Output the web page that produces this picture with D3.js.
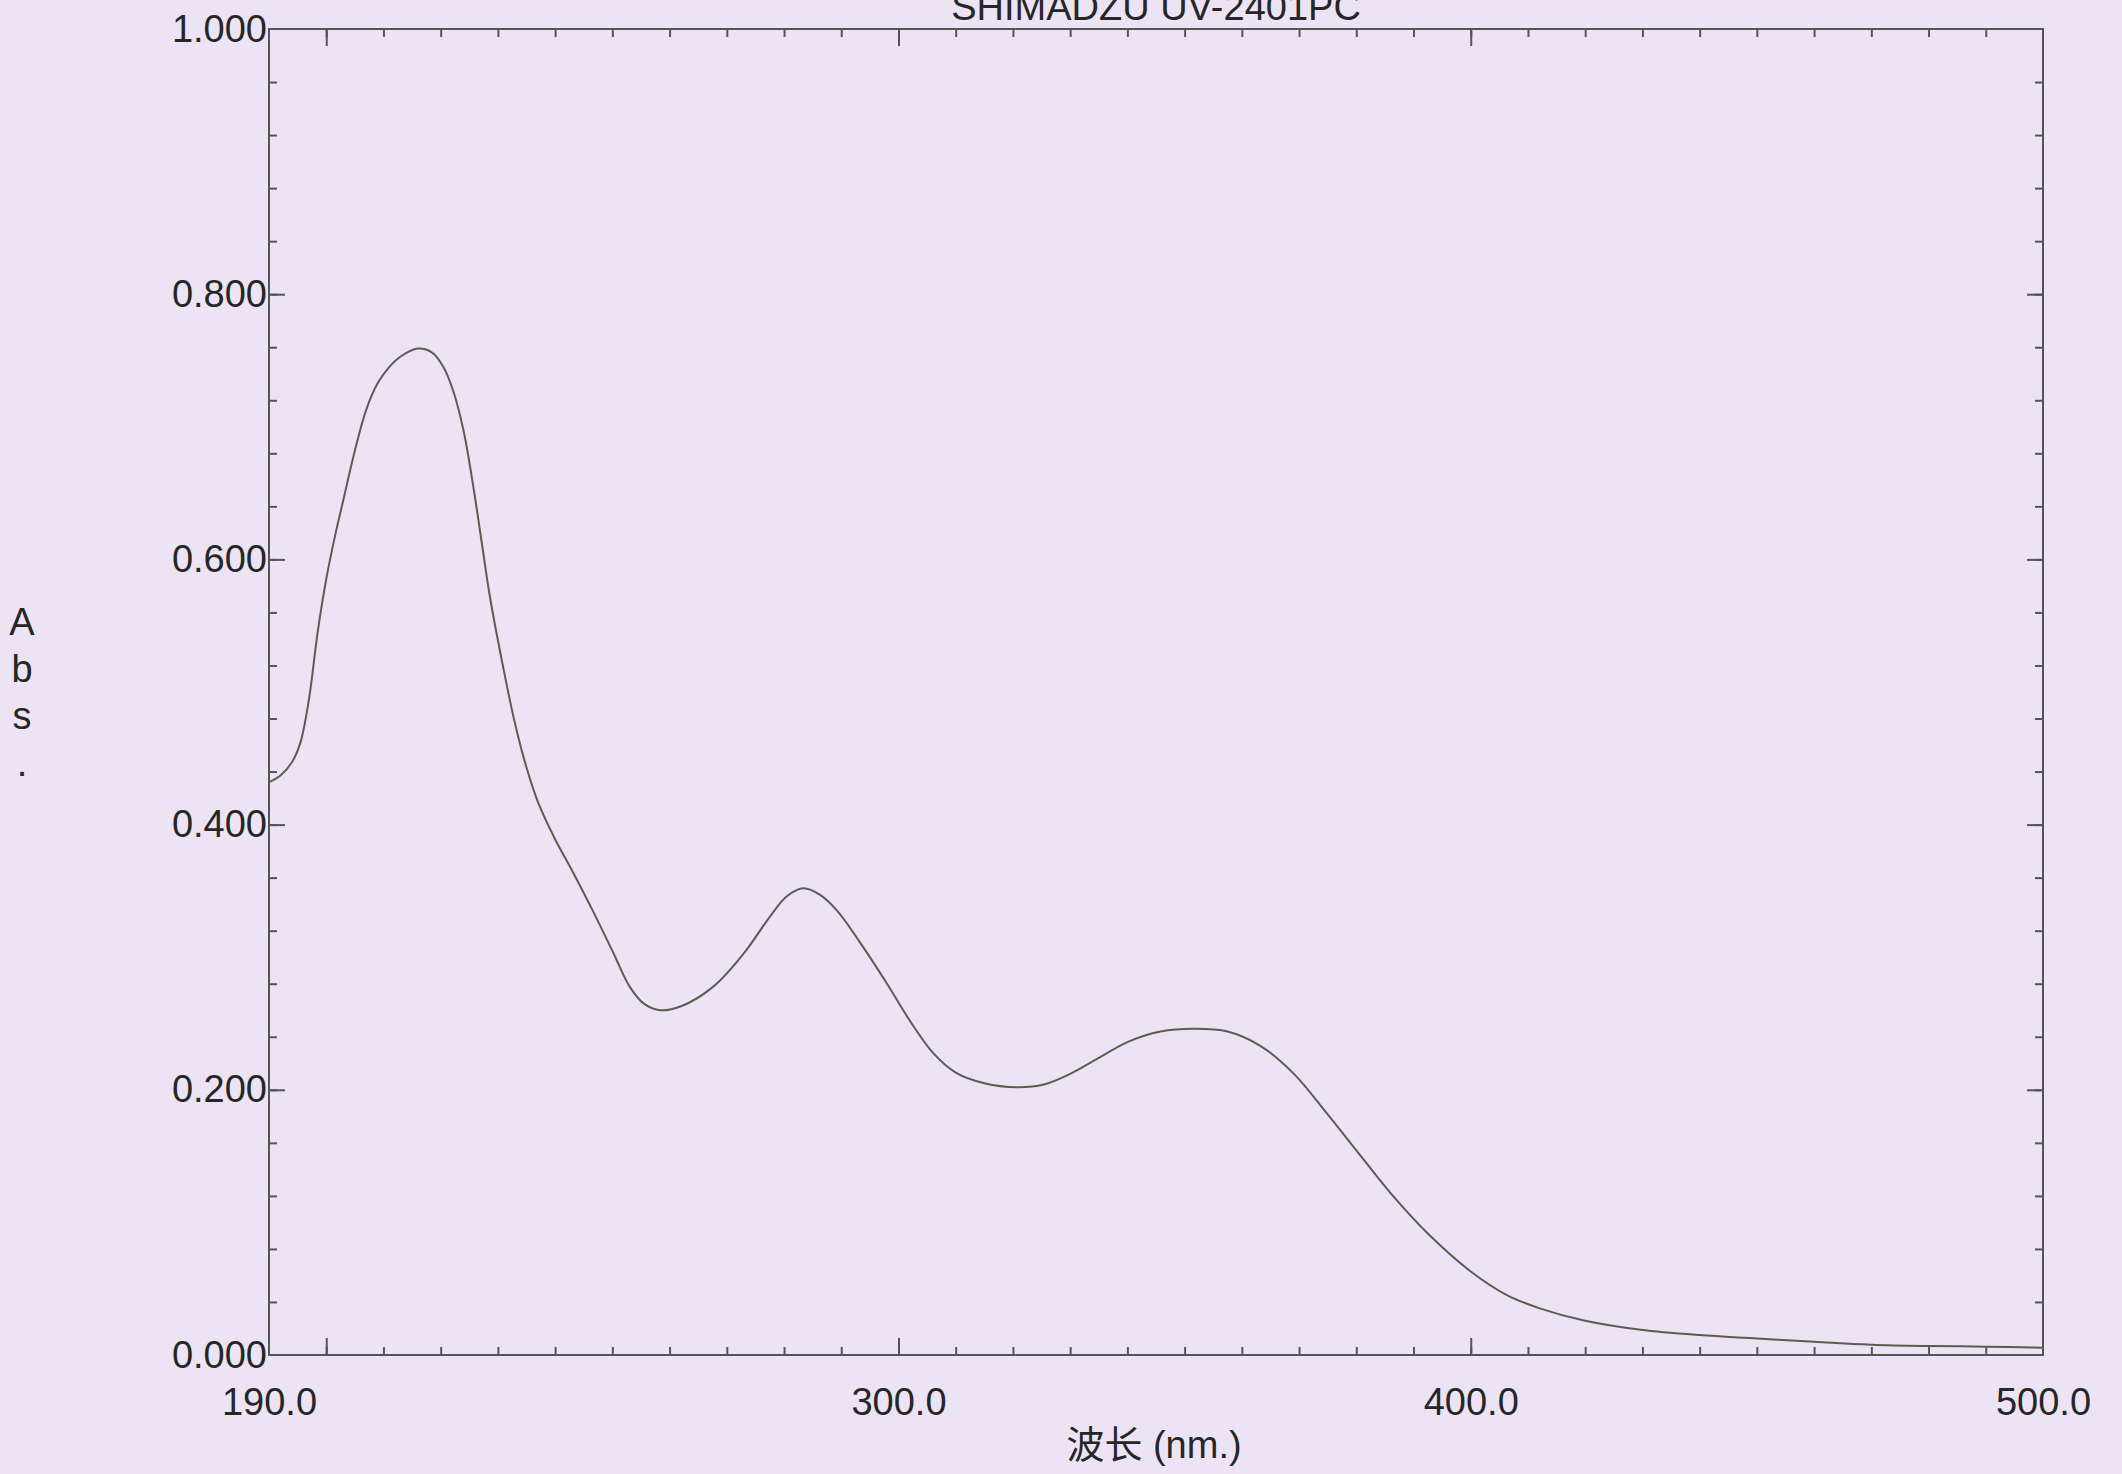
<!DOCTYPE html>
<html>
<head>
<meta charset="utf-8">
<script src="https://cdn.jsdelivr.net/npm/d3@7"></script>
<style>
  html, body { margin: 0; padding: 0; background: #ece4f4; }
  svg { display: block; }
  text { font-family: "Liberation Sans", Arial, "Noto Sans CJK SC", sans-serif; fill: #262626; }
</style>
</head>
<body>
<svg id="chart" width="2122" height="1474"></svg>
<script>
// UV-Vis absorption spectrum (SHIMADZU UV-2401PC)
const wavelength = [190, 192, 194, 195.5, 197, 198.5, 200, 201.5, 203, 205, 207, 209, 211, 213, 216,
  218.5, 220.5, 222.2, 224, 225.7, 227.2, 228.6, 231, 233, 235, 237, 240, 243, 246.7, 250.2, 253,
  255.5, 258.4, 262, 267.7, 273, 277.6, 280.5, 283.4, 286.3, 289.3, 293.3, 298, 302, 306, 310, 315,
  320.7, 325.4, 330, 335, 340, 345.8, 351.6, 357.5, 363.3, 369.1, 374.9, 380.8, 386.6, 392.4, 400,
  406.4, 412.2, 419.8, 429.7, 440, 450, 460, 470, 480, 490, 500];
const absorbance = [0.432, 0.437, 0.447, 0.462, 0.495, 0.545, 0.585, 0.617, 0.645, 0.682, 0.713, 0.733,
  0.745, 0.753, 0.759, 0.756, 0.745, 0.727, 0.697, 0.655, 0.612, 0.572, 0.517, 0.476, 0.443, 0.417,
  0.389, 0.365, 0.334, 0.303, 0.278, 0.265, 0.260, 0.263, 0.278, 0.303, 0.331, 0.346, 0.352, 0.347,
  0.335, 0.311, 0.280, 0.252, 0.228, 0.213, 0.205, 0.202, 0.204, 0.212, 0.224, 0.236, 0.244, 0.246,
  0.244, 0.233, 0.212, 0.182, 0.150, 0.119, 0.092, 0.063, 0.045, 0.035, 0.026, 0.019, 0.015, 0.0125,
  0.010, 0.0078, 0.0068, 0.0063, 0.0055];

const xLabelTicks = [190, 300, 400, 500];
const xMajorTicks = [200, 300, 400];
const xMinorTicks = d3.range(200, 500, 10);
const yLabelTicks = [0, 0.2, 0.4, 0.6, 0.8, 1.0];
const yMinorTicks = d3.range(0.04, 1.0, 0.04);

const titleText = "SHIMADZU UV-2401PC";
const xTitle = "波长 (nm.)";
const yTitle = ["A", "b", "s", "."];

const margin = { left: 269, right: 2122 - 2043, top: 29, bottom: 1474 - 1355 };
const W = 2122, H = 1474;
const svg = d3.select("#chart");

const x = d3.scaleLinear().domain([190, 500]).range([margin.left, W - margin.right]);
const y = d3.scaleLinear().domain([0, 1]).range([H - margin.bottom, margin.top]);

const axisColor = "#545454";
const fontSize = 38;

function styleAxis(g) {
  g.select(".domain").remove();
  g.selectAll(".tick line").attr("stroke", axisColor).attr("stroke-width", 2);
  g.selectAll(".tick text").attr("fill", "#262626").style("font-size", fontSize + "px");
}

const yBottom = y(0), yTop = y(1), xLeft = x(190), xRight = x(500);

// bottom axis: inward ticks
svg.append("g").attr("transform", `translate(0,${yBottom})`)
  .call(d3.axisBottom(x).tickValues(xMinorTicks).tickSize(-8).tickFormat(""))
  .call(styleAxis);
svg.append("g").attr("transform", `translate(0,${yBottom})`)
  .call(d3.axisBottom(x).tickValues(xMajorTicks).tickSize(-17).tickFormat(""))
  .call(styleAxis);
svg.append("g").attr("transform", `translate(0,${yBottom})`)
  .call(d3.axisBottom(x).tickValues(xLabelTicks).tickSize(0).tickPadding(33).tickFormat(d3.format(".1f")))
  .call(styleAxis);

// top axis: inward ticks
svg.append("g").attr("transform", `translate(0,${yTop})`)
  .call(d3.axisTop(x).tickValues(xMinorTicks).tickSize(-8).tickFormat(""))
  .call(styleAxis);
svg.append("g").attr("transform", `translate(0,${yTop})`)
  .call(d3.axisTop(x).tickValues(xMajorTicks).tickSize(-17).tickFormat(""))
  .call(styleAxis);

// left axis
svg.append("g").attr("transform", `translate(${xLeft},0)`)
  .call(d3.axisLeft(y).tickValues(yMinorTicks).tickSize(-8).tickFormat(""))
  .call(styleAxis);
svg.append("g").attr("transform", `translate(${xLeft},0)`)
  .call(d3.axisLeft(y).tickValues(yLabelTicks.slice(1, -1)).tickSize(-16).tickFormat(""))
  .call(styleAxis);
svg.append("g").attr("transform", `translate(${xLeft},0)`)
  .call(d3.axisLeft(y).tickValues(yLabelTicks).tickSize(0).tickPadding(2).tickFormat(d3.format(".3f")))
  .call(styleAxis);

// right axis
svg.append("g").attr("transform", `translate(${xRight},0)`)
  .call(d3.axisRight(y).tickValues(yMinorTicks).tickSize(-8).tickFormat(""))
  .call(styleAxis);
svg.append("g").attr("transform", `translate(${xRight},0)`)
  .call(d3.axisRight(y).tickValues(yLabelTicks.slice(1, -1)).tickSize(-16).tickFormat(""))
  .call(styleAxis);

// frame
svg.append("rect")
  .attr("x", xLeft).attr("y", yTop)
  .attr("width", xRight - xLeft).attr("height", yBottom - yTop)
  .attr("fill", "none").attr("stroke", axisColor).attr("stroke-width", 2);

// spectrum
const pts = wavelength.map((w, i) => [w, absorbance[i]]);
svg.append("path")
  .datum(pts)
  .attr("fill", "none")
  .attr("stroke", "#5c5c54")
  .attr("stroke-width", 2)
  .attr("stroke-linejoin", "round")
  .attr("d", d3.line().x(d => x(d[0])).y(d => y(d[1])).curve(d3.curveCatmullRom.alpha(0.5)));

// title (instrument name above frame)
svg.append("text")
  .attr("x", (xLeft + xRight) / 2).attr("y", 20)
  .attr("text-anchor", "middle")
  .style("font-size", "38px")
  .text(titleText);

// x-axis title
svg.append("text")
  .attr("x", (xLeft + xRight) / 2 - 2).attr("y", 1458)
  .attr("text-anchor", "middle")
  .style("font-size", fontSize + "px")
  .style("font-family", "'Liberation Sans', 'Noto Sans CJK SC', sans-serif")
  .text(xTitle);

// y-axis title, one character per line
svg.append("g").selectAll("text")
  .data(yTitle)
  .join("text")
  .attr("x", 22).attr("y", (d, i) => 635 + i * 47)
  .attr("text-anchor", "middle")
  .style("font-size", fontSize + "px")
  .text(d => d);
</script>
</body>
</html>
